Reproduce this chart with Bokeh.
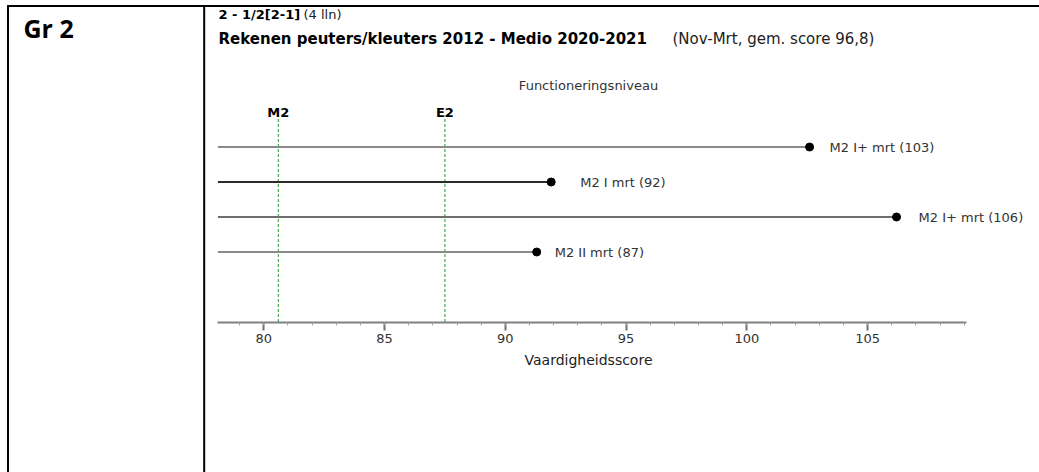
from bokeh.plotting import figure
from bokeh.models import Range1d, LinearAxis, SingleIntervalTicker, ColumnDataSource
from bokeh.embed import file_html
from bokeh.resources import INLINE
from bokeh.core.properties import value

# ---------------- data ----------------
group_label = "Gr 2"
title_bold_1 = "2 - 1/2[2-1]"
title_norm_1 = "(4 lln)"
title_bold_2 = "Rekenen peuters/kleuters 2012 - Medio 2020-2021"
title_norm_2 = "(Nov-Mrt, gem. score 96,8)"
level_title = "Functioneringsniveau"
x_title = "Vaardigheidsscore"

row_labels = ["M2 I+ mrt (103)", "M2 I mrt (92)", "M2 I+ mrt (106)", "M2 II mrt (87)"]
row_values = [102.6, 91.9, 106.2, 91.3]

level_names = ["M2", "E2"]
level_values = [80.6, 87.5]

axis_start, axis_end = 78.1, 109.1
tick_interval = 5

# ---------------- styles ----------------
row_colors = ["#8a8a8a", "#2a2a2a", "#6e6e6e", "#8a8a8a"]
label_offsets = [20, 29, 22, 18]
FONT = value("DejaVu Sans")

W, H = 1039, 472

# page-pixel helpers (used only for placing decorations)
def px2x(px):
    return 80 + (px - 263.3) / 24.15

def py2y(py):
    return (321.5 - py) / 35.0

p = figure(width=W, height=H,
           x_range=Range1d(px2x(0), px2x(W)), y_range=Range1d(py2y(H), py2y(0)),
           output_backend="svg", toolbar_location=None, title=None,
           x_axis_location=None, y_axis_location=None,
           min_border_left=0, min_border_right=0, min_border_top=0, min_border_bottom=0)
p.outline_line_color = None
p.grid.visible = False

# table borders
p.segment(x0=[px2x(7.5), px2x(6.5), px2x(203.7)],
          y0=[py2y(5), py2y(5.5), py2y(5)],
          x1=[px2x(7.5), px2x(W), px2x(203.7)],
          y1=[py2y(H), py2y(5.5), py2y(H)],
          line_color="black", line_width=2)
p.text(x=[px2x(23)], y=[py2y(27)], text=[group_label], text_font=value("Open Sans"),
       text_font_style="bold", text_font_size="25px", text_baseline="middle",
       text_color="black")

n = len(row_values)
ys = [5 - i for i in range(n)]
src = ColumnDataSource(dict(x0=[axis_start] * n, x=row_values, y=ys, label=row_labels,
                            color=row_colors, off=label_offsets))

# reference level lines
lsrc = ColumnDataSource(dict(x=level_values, name=level_names,
                             y0=[0] * len(level_values), y1=[py2y(115)] * len(level_values)))
p.segment(x0="x", y0="y0", x1="x", y1="y1", source=lsrc, line_color="#1f9a2a",
          line_width=1, line_dash="3 2")
p.text(x="x", y=py2y(112), text="name", source=lsrc, text_font=FONT, text_font_style="bold",
       text_font_size="13px", text_align="center", text_baseline="middle", text_color="black")

# bars
p.segment(x0="x0", y0="y", x1="x", y1="y", source=src, line_color="color", line_width=2)
p.scatter(x="x", y="y", source=src, size=8, color="black")
p.text(x="x", y="y", text="label", x_offset="off", source=src, text_font=FONT,
       text_font_size="13px", text_baseline="middle", text_color="#333333")

# titles
p.text(x=[px2x(218)], y=[py2y(14)], text=[title_bold_1], text_font=FONT, text_font_style="bold",
       text_font_size="13px", text_baseline="middle", text_color="black")
p.text(x=[px2x(303)], y=[py2y(14)], text=[title_norm_1], text_font=FONT,
       text_font_size="13px", text_baseline="middle", text_color="#222222")
p.text(x=[px2x(218)], y=[py2y(38)], text=[title_bold_2], text_font=FONT, text_font_style="bold",
       text_font_size="15px", text_baseline="middle", text_color="black")
p.text(x=[px2x(672)], y=[py2y(38)], text=[title_norm_2], text_font=FONT,
       text_font_size="15px", text_baseline="middle", text_color="#222222")
p.text(x=[px2x(588)], y=[py2y(85)], text=[level_title], text_font=FONT,
       text_font_size="13px", text_align="center", text_baseline="middle", text_color="#333333")
p.text(x=[px2x(588)], y=[py2y(359)], text=[x_title], text_font=FONT,
       text_font_size="14px", text_align="center", text_baseline="middle", text_color="#222222")

axis = LinearAxis(ticker=SingleIntervalTicker(interval=tick_interval, num_minor_ticks=5),
                  bounds=(axis_start, axis_end), fixed_location=0)
axis.axis_line_color = "#808080"
axis.axis_line_width = 2
axis.major_tick_line_color = "#707070"
axis.major_tick_line_width = 2
axis.major_tick_out = 8
axis.major_tick_in = 0
axis.minor_tick_line_color = "#a0a0a0"
axis.minor_tick_out = 3
axis.minor_tick_in = 0
axis.major_label_text_font = "DejaVu Sans"
axis.major_label_text_font_size = "13px"
axis.major_label_text_color = "#333333"
axis.major_label_standoff = 4
p.add_layout(axis, "below")

open("out.html", "w").write(file_html(p, INLINE))
